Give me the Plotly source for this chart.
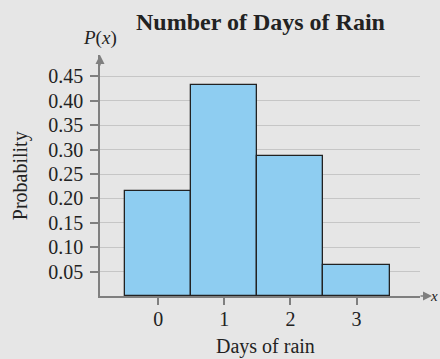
import plotly.graph_objects as go

days = [0, 1, 2, 3]
probability = [0.216, 0.432, 0.288, 0.064]
y_ticks = [0.05, 0.10, 0.15, 0.20, 0.25, 0.30, 0.35, 0.40, 0.45]
y_tick_labels = ["0.05", "0.10", "0.15", "0.20", "0.25", "0.30", "0.35", "0.40", "0.45"]
x_tick_labels = ["0", "1", "2", "3"]

FONT = "Liberation Serif"
BG = "#e6e6e6"
AXIS = "#7f7f7f"
TXT = "#222222"

fig = go.Figure()
fig.add_trace(go.Bar(
    x=days, y=probability, width=1,
    marker=dict(color="#8ecdf1", line=dict(color="#222222", width=1.3)),
    hoverinfo="x+y",
))

fig.update_layout(
    width=440, height=359,
    paper_bgcolor=BG, plot_bgcolor=BG,
    margin=dict(l=100, r=20, t=55, b=63),
    showlegend=False,
    font=dict(family=FONT, size=20, color=TXT),
    bargap=0,
    xaxis=dict(
        range=[-0.88, 3.96], automargin=False,
        tickvals=days, ticktext=x_tick_labels,
        showgrid=False, zeroline=False,
        showline=True, linecolor=AXIS, linewidth=1.5,
        ticks="outside", ticklen=7, tickcolor=AXIS, tickwidth=1.5,
        ticklabelstandoff=-3,
        tickfont=dict(family=FONT, size=20, color=TXT),
    ),
    yaxis=dict(
        range=[0, 0.494], automargin=False,
        tickvals=y_ticks, ticktext=y_tick_labels,
        showgrid=True, gridcolor="#c6c6c6", gridwidth=1.3,
        zeroline=False,
        showline=True, linecolor=AXIS, linewidth=1.5,
        ticks="outside", ticklen=8, tickcolor=AXIS, tickwidth=1.5,
        ticklabelstandoff=3,
        tickfont=dict(family=FONT, size=20, color=TXT),
    ),
    annotations=[
        dict(text="<b>Number of Days of Rain</b>", xref="paper", yref="paper",
             x=0.5, y=1.0, yshift=33, showarrow=False,
             font=dict(family=FONT, size=24, color=TXT),
             xanchor="center", yanchor="middle"),
        dict(text="<i>P</i>(<i>x</i>)", xref="paper", yref="paper",
             x=0, y=1.0, yshift=17, showarrow=False,
             font=dict(family=FONT, size=19, color=TXT),
             xanchor="center", yanchor="middle"),
        dict(text="Days of rain", xref="paper", yref="paper",
             x=0.516, y=0, yshift=-50, showarrow=False,
             font=dict(family=FONT, size=20, color=TXT),
             xanchor="center", yanchor="middle"),
        dict(text="Probability", xref="paper", yref="paper",
             x=0, xshift=-80, y=0.497, textangle=-90, showarrow=False,
             font=dict(family=FONT, size=20, color=TXT),
             xanchor="center", yanchor="middle"),
        # arrowhead at top of y axis
        dict(text="", xref="paper", yref="paper", x=0, y=1.0,
             ax=0, ay=12, showarrow=True, arrowhead=2, arrowsize=1.2,
             arrowwidth=1.5, arrowcolor=AXIS),
        # extension and arrowhead of x axis
        dict(text="", xref="paper", yref="paper", x=1.0375, y=0,
             ax=-13, ay=0, showarrow=True, arrowhead=2, arrowsize=1.2,
             arrowwidth=1.5, arrowcolor=AXIS),
        dict(text="<i>x</i>", xref="paper", yref="paper", x=1.0625, y=0,
             showarrow=False, xanchor="right", yanchor="middle",
             font=dict(family=FONT, size=15, color=TXT)),
    ],
)

fig.write_html(
    "out.html",
    config={"displayModeBar": False},
    post_script="document.body.style.margin='0';document.documentElement.style.overflow='hidden';",
)
